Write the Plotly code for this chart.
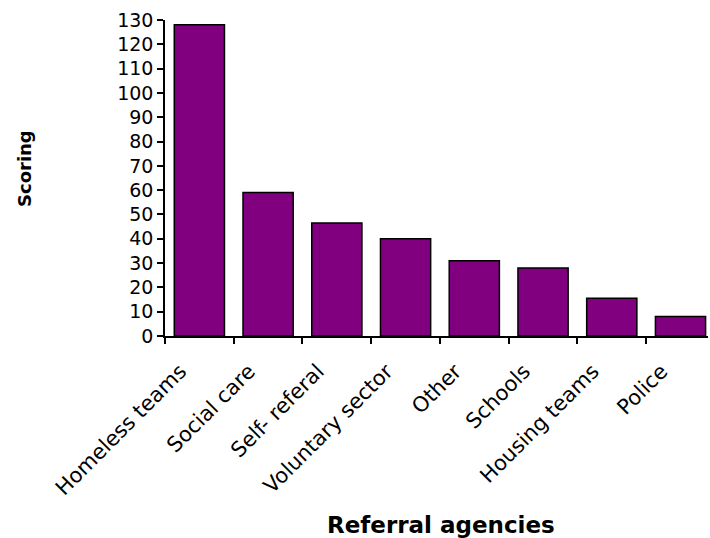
import plotly.graph_objects as go

categories = ["Homeless teams", "Social care", "Self- referal", "Voluntary sector",
              "Other", "Schools", "Housing teams", "Police"]
scores = [128, 59, 46.5, 40, 31, 28, 15.5, 8]
y_ticks = list(range(0, 131, 10))

FONT = "DejaVu Sans, Verdana, sans-serif"

fig = go.Figure(go.Bar(
    x=categories, y=scores,
    marker=dict(color="#800080", line=dict(color="black", width=1.5)),
    width=0.73,
))

fig.update_layout(
    width=710, height=538,
    margin=dict(l=165, r=2, t=20, b=202),
    plot_bgcolor="white", paper_bgcolor="white",
    font=dict(family=FONT, size=19, color="black"),
    showlegend=False,
)
fig.update_xaxes(
    range=[-0.5, 7.4], tickangle=-45, tickson="boundaries",
    ticks="outside", ticklen=6, tickwidth=1.5, tickcolor="black",
    showline=True, linecolor="black", linewidth=1.5,
    showgrid=False, tickfont=dict(size=21, family=FONT),
    ticklabelstandoff=13, ticklabelshift=-19,
    automargin=False,
)
fig.update_yaxes(
    range=[0, 130], tickvals=y_ticks, ticktext=[str(v) for v in y_ticks],
    ticks="outside", ticklen=6, tickwidth=1.5, tickcolor="black",
    showline=True, linecolor="black", linewidth=1.5,
    showgrid=False, zeroline=False, tickfont=dict(size=19, family=FONT),
    automargin=False,
)
fig.add_annotation(text="<b>Referral agencies</b>", xref="paper", yref="paper",
                   x=(441 - 165) / 543, y=-(525 - 336) / 316, showarrow=False,
                   xanchor="center", yanchor="middle",
                   font=dict(size=23, family=FONT))
fig.add_annotation(text="<b>Scoring</b>", xref="paper", yref="paper",
                   x=-(165 - 24) / 543, y=(336 - 169) / 316, showarrow=False,
                   textangle=-90, xanchor="center", yanchor="middle",
                   font=dict(size=18, family=FONT))

fig.write_html("out.html", config={"displayModeBar": False},
               post_script="document.body.style.margin='0';")
